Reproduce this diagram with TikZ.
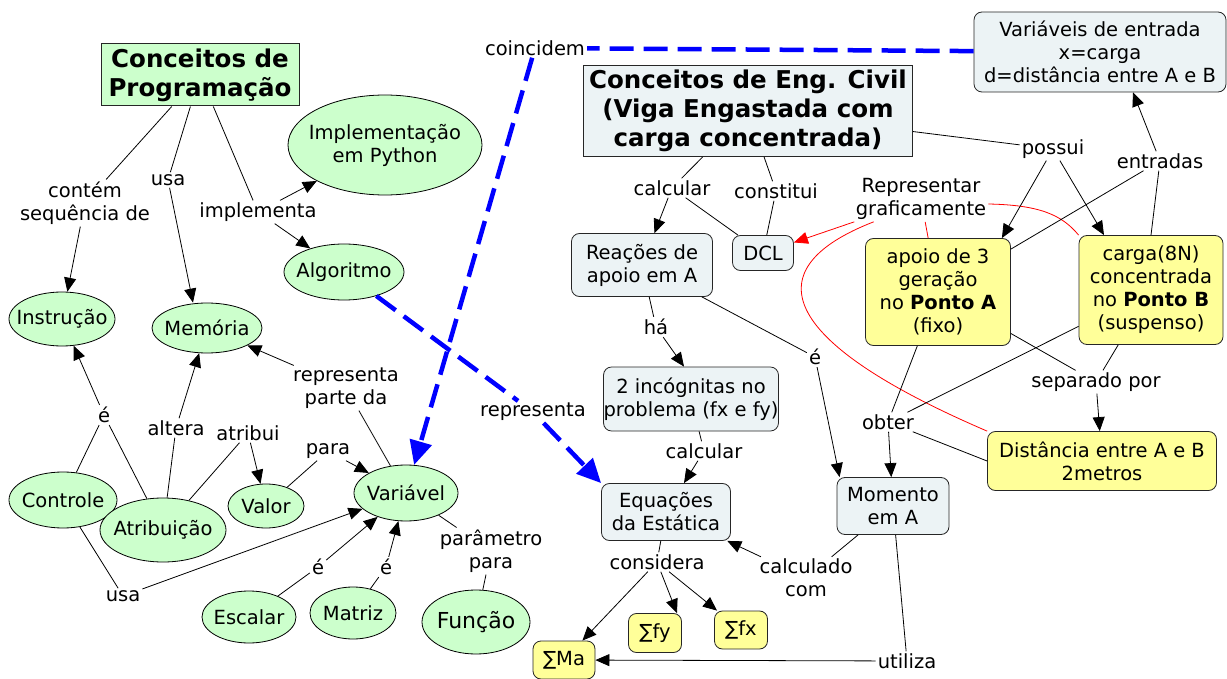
\documentclass[tikz,border=0pt]{standalone}
\usepackage{fontspec}
\setmainfont{DejaVu Sans}
\usetikzlibrary{shapes.geometric,arrows.meta,calc}
\definecolor{cgreen}{RGB}{204,255,204}
\definecolor{cgray}{RGB}{236,243,245}
\definecolor{cyellow}{RGB}{255,255,153}
\definecolor{cblue}{RGB}{0,0,255}
\definecolor{cred}{RGB}{255,0,0}
\begin{document}
\begin{tikzpicture}[x=1pt,y=-1pt,
  base/.style={font=\fontsize{19.5}{23}\selectfont, align=center},
  oval/.style={ellipse, draw=black, line width=0.8pt, fill=cgreen, inner sep=0pt},
  ovaltext/.style={base, inner sep=0pt},
  gbox/.style={base, rectangle, draw=black!85, line width=0.8pt, fill=cgray, rounded corners=8pt, inner sep=0pt},
  ybox/.style={base, rectangle, draw=black!85, line width=0.8pt, fill=cyellow, rounded corners=8pt, inner sep=0pt},
  tbox/.style={font=\bfseries\fontsize{24.5}{29}\selectfont, align=center, rectangle, draw=black!85, line width=1pt, inner sep=0pt},
  lbl/.style={base, inner sep=2pt},
  ln/.style={line width=0.8pt, draw=black},
  arr/.style={ln, -{Triangle[length=14pt,width=12pt]}},
  bdash/.style={draw=cblue, line width=4.5pt, dash pattern=on 24pt off 10pt},
  barr/.style={bdash, -{Triangle[length=24pt,width=22pt]}},
  rln/.style={draw=cred, line width=0.8pt},
]
\useasboundingbox (0,0) rectangle (1227,679);
\fill[white] (0,0) rectangle (1227,679);

% ---------- left: programming concepts ----------
\node[tbox, fill=cgreen, minimum width=198pt, minimum height=62pt] (cp) at (200,75) {Conceitos de\\Programação};
\node[oval, minimum width=194pt, minimum height=100pt] (py) at (385,145) {};
\node[ovaltext] (pyT) at (py.center) {Implementação\\em Python};
\node[oval, minimum width=120pt, minimum height=56pt] (alg) at (344,272) {};
\node[ovaltext] (algT) at (alg.center) {Algoritmo};
\node[oval, minimum width=106pt, minimum height=54pt] (ins) at (62,319) {};
\node[ovaltext] (insT) at (ins.center) {Instrução};
\node[oval, minimum width=110pt, minimum height=50pt] (mem) at (207,328) {};
\node[ovaltext] (memT) at (mem.center) {Memória};
\node[oval, minimum width=108pt, minimum height=56pt] (ctl) at (63,500) {};
\node[ovaltext] (ctlT) at (ctl.center) {Controle};
\node[oval, minimum width=126pt, minimum height=64pt] (atr) at (163,530) {};
\node[ovaltext] (atrT) at (atr.center) {Atribuição};
\node[oval, minimum width=76pt, minimum height=44pt] (val) at (266,506) {};
\node[ovaltext] (valT) at (val.center) {Valor};
\node[oval, minimum width=104pt, minimum height=56pt] (var) at (406,493) {};
\node[ovaltext] (varT) at (var.center) {Variável};
\node[oval, minimum width=94pt, minimum height=52pt] (esc) at (249,617) {};
\node[ovaltext] (escT) at (esc.center) {Escalar};
\node[oval, minimum width=86pt, minimum height=52pt] (mat) at (353,613) {};
\node[ovaltext] (matT) at (mat.center) {Matriz};
\node[oval, minimum width=108pt, minimum height=64pt] (fun) at (476,622) {};
\node[ovaltext, font=\fontsize{22}{26}\selectfont] (funT) at (fun.center) {Função};

\node[lbl] (l1) at (85,203) {contém\\sequência de};
\node[lbl] (l2) at (168,180) {usa};
\node[lbl] (l3) at (258,212) {implementa};
\node[lbl] (l4) at (104,415) {é};
\node[lbl] (l5) at (176,428) {altera};
\node[lbl] (l6) at (248,433) {atribui};
\node[lbl] (l7) at (328,451) {para};
\node[lbl] (l8) at (346,388) {representa\\parte da};
\node[lbl] (l9) at (123,596) {usa};
\node[lbl] (l10) at (318,567) {é};
\node[lbl] (l11) at (386,567) {é};
\node[lbl] (l12) at (491,551) {parâmetro\\para};
\node[lbl] (l13) at (535,48) {coincidem};
\node[lbl] (l14) at (533,412) {representa};

% ---------- right: civil engineering concepts ----------
\node[tbox, fill=cgray, minimum width=329pt, minimum height=91pt] (ce) at (748,111) {Conceitos de Eng. Civil\\(Viga Engastada com\\carga concentrada)};
\node[gbox, minimum width=252pt, minimum height=80pt] (vin) at (1100,52) {Variáveis de entrada\\x=carga\\d=distância entre A e B};
\node[gbox, minimum width=141pt, minimum height=63pt] (rea) at (642,265) {Reações de\\apoio em A};
\node[gbox, minimum width=61pt, minimum height=35pt] (dcl) at (763,253) {DCL};
\node[ybox, minimum width=145pt, minimum height=107pt] (apo) at (938,292) {apoio de 3\\geração\\no \textbf{Ponto A}\\(fixo)};
\node[ybox, minimum width=144pt, minimum height=109pt] (car) at (1151,290) {carga(8N)\\concentrada\\no \textbf{Ponto B}\\(suspenso)};
\node[gbox, minimum width=170pt, minimum height=64pt] (inc) at (691,399) {2 incógnitas no\\problema (fx e fy)};
\node[gbox, minimum width=129pt, minimum height=57pt] (equ) at (666,512) {Equações\\da Estática};
\node[gbox, minimum width=112pt, minimum height=57pt] (mom) at (893,506) {Momento\\em A};
\node[ybox, minimum width=229pt, minimum height=59pt] (dis) at (1102,461) {Distância entre A e B\\2metros};
\node[ybox, minimum width=62pt, minimum height=38pt] (sma) at (564,660) {∑Ma};
\node[ybox, minimum width=53pt, minimum height=39pt] (sfy) at (655,633) {∑fy};
\node[ybox, minimum width=53pt, minimum height=38pt] (sfx) at (741,630) {∑fx};

\node[lbl] (r1) at (672,188) {calcular};
\node[lbl] (r2) at (776,191) {constitui};
\node[lbl] (r3) at (921,199) {Representar\\graficamente};
\node[lbl] (r4) at (1053,149) {possui};
\node[lbl] (r5) at (1160,161) {entradas};
\node[lbl] (r6) at (656,327) {há};
\node[lbl] (r7) at (815,357) {é};
\node[lbl] (r8) at (704,451) {calcular};
\node[lbl] (r9) at (888,422) {obter};
\node[lbl] (r10) at (1096,382) {separado por};
\node[lbl] (r11) at (657,562) {considera};
\node[lbl] (r12) at (806,578) {calculado\\com};
\node[lbl] (r13) at (907,661) {utiliza};

% ---------- connectors left ----------
\draw[ln] (cp) -- (l1);
\draw[arr] (l1) -- (ins);
\draw[ln] (cp) -- (l2);
\draw[arr] (l2) -- ([xshift=-14pt]mem.north);
\draw[ln] (cp) -- (l3);
\draw[arr] (l3) -- (py);
\draw[arr] (l3) -- (alg);
\draw[ln] (ctl) -- (l4);
\draw[ln] (atr) -- (l4);
\draw[arr] (l4) -- (ins);
\draw[ln] (atr) -- (l5);
\draw[arr] (l5) -- (mem);
\draw[ln] (atr) -- (l6);
\draw[arr] (l6) -- (val);
\draw[ln] (val) -- (l7);
\draw[arr] (l7) -- (var);
\draw[ln] (var) -- (l8);
\draw[arr] (l8) -- (mem);
\draw[ln] (ctl) -- (l9);
\draw[arr] (l9) -- (var);
\draw[ln] (esc) -- (l10);
\draw[arr] (l10) -- (var);
\draw[ln] (mat) -- (l11);
\draw[arr] (l11) -- (var);
\draw[ln] (var) -- (l12);
\draw[ln] (l12) -- (fun);

% blue dashed links
\draw[bdash] (vin) -- (l13);
\draw[barr] (l13) -- (var);
\draw[bdash] (alg) -- (l14);
\draw[barr] (l14) -- (equ.north west);

% ---------- connectors right ----------
\draw[ln] (ce) -- (r1);
\draw[arr] (r1) -- (rea);
\draw[ln] (r1) -- (dcl);
\draw[ln] (ce) -- (r2);
\draw[ln] (r2) -- (dcl);
\draw[rln, -{Triangle[length=14pt,width=12pt]}] (r3) -- (dcl);
\draw[rln] (r3) -- (apo);
\draw[rln] ([yshift=-5pt]r3.east) .. controls (1040,205) and (1062,215) .. (car.north west);
\draw[rln] ($(r3.south west)+(20,0)$) .. controls (755,268) and (775,340) .. (dis.north west);
\draw[ln] (ce) -- (r4);
\draw[arr] (r4) -- ([xshift=-9pt]apo.north east);
\draw[arr] (r4) -- ([xshift=-47pt]car.north);
\draw[ln] (apo) -- (r5);
\draw[ln] (car.north) -- (r5);
\draw[arr] (r5) -- ([xshift=33pt]vin.south);
\draw[ln] (rea) -- (r6);
\draw[arr] (r6) -- ([xshift=-7pt]inc.north);
\draw[ln] (rea) -- (r7);
\draw[arr] (r7) -- ([xshift=3pt]mom.north west);
\draw[ln] (inc) -- (r8);
\draw[arr] (r8) -- (equ);
\draw[ln] (apo) -- (r9);
\draw[ln] (car) -- (r9);
\draw[ln] (dis.west) -- (r9);
\draw[arr] (r9) -- (mom);
\draw[ln] (apo) -- (r10);
\draw[ln] (car) -- (r10);
\draw[arr] (r10) -- (dis);
\draw[ln] (equ) -- (r11);
\draw[arr] (r11) -- (sma);
\draw[arr] (r11) -- ([xshift=22pt]sfy.north);
\draw[arr] (r11) -- (sfx);
\draw[ln] (mom) -- (r12);
\draw[arr] (r12) -- (equ);
\draw[ln] (mom) -- (r13);
\draw[arr] (r13) -- (sma);
\end{tikzpicture}
\end{document}
